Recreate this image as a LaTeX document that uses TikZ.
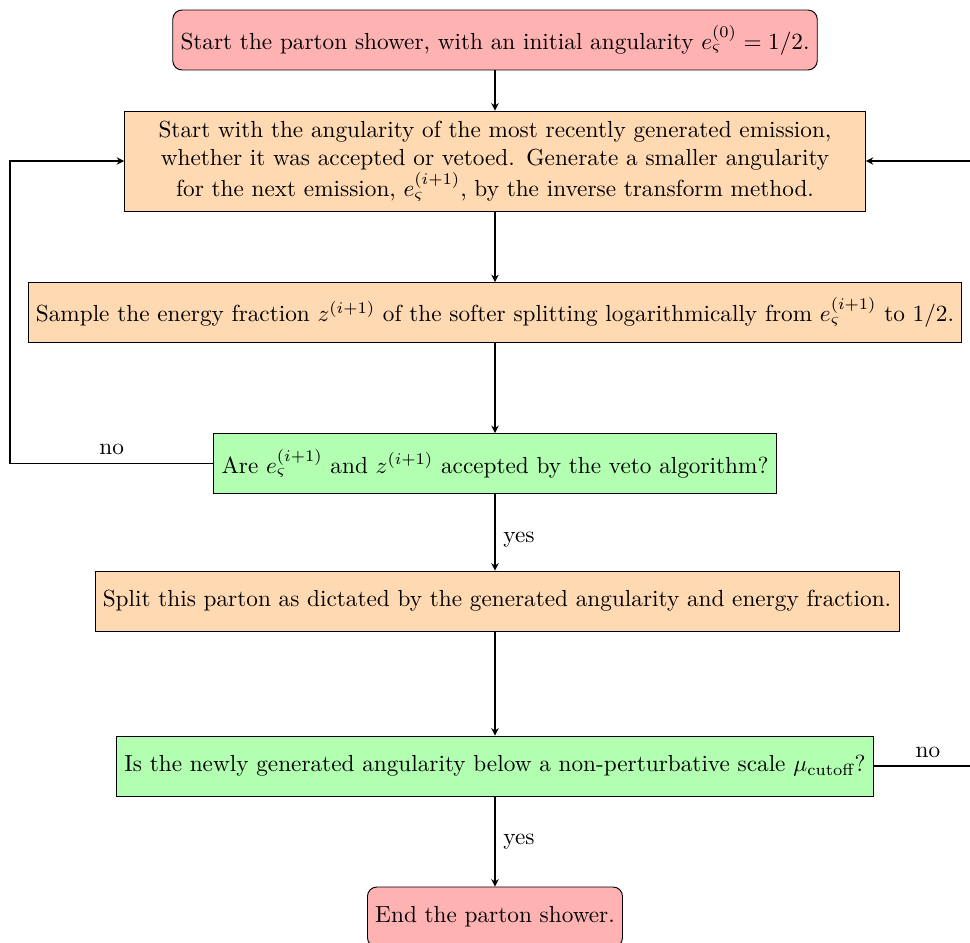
\documentclass[tikz,border=0pt]{standalone}
\usepackage{amsmath}
\usetikzlibrary{arrows.meta}
\definecolor{startred}{rgb}{1,0.7,0.7}
\definecolor{procorange}{rgb}{1,0.85,0.7}
\definecolor{decgreen}{rgb}{0.7,1,0.7}
\tikzset{
  startstop/.style={draw, rounded corners, fill=startred, minimum height=25.8pt, align=center},
  process/.style={draw, fill=procorange, minimum height=25.8pt, align=center},
  decision/.style={draw, fill=decgreen, minimum height=25.8pt, align=center},
  conn/.style={semithick, -{Stealth[length=3.2pt,width=3.2pt]}},
}
\begin{document}
\begin{tikzpicture}[x=0.4302pt, y=-0.4302pt]
\useasboundingbox (0,0) rectangle (970,942);
\node[startstop] (n1) at (495,40) {Start the parton shower, with an initial angularity $e_\varsigma^{(0)} = 1/2$.};
\node[process, text width=312pt, minimum height=43pt] (n2) at (495,161) {Start with the angularity of the most recently generated emission,\\ whether it was accepted or vetoed. Generate a smaller angularity\\ for the next emission, $e_\varsigma^{(i+1)}$, by the inverse transform method.};
\node[process] (n3) at (495,312.5) {Sample the energy fraction $z^{(i+1)}$ of the softer splitting logarithmically from $e_\varsigma^{(i+1)}$ to $1/2$.};
\node[decision] (n4) at (495,463.5) {Are $e_\varsigma^{(i+1)}$ and $z^{(i+1)}$ accepted by the veto algorithm?};
\node[process] (n5) at (497,601) {Split this parton as dictated by the generated angularity and energy fraction.};
\node[decision] (n6) at (495,766) {Is the newly generated angularity below a non-perturbative scale $\mu_{\text{cutoff}}$?};
\node[startstop] (n7) at (495,917) {End the parton shower.};
\coordinate (lft) at (10,0);
\coordinate (rgt) at (982,0);
\draw[conn] (n1) -- (n2);
\draw[conn] (n2) -- (n3);
\draw[conn] (n3) -- (n4);
\draw[conn] (n4.south -| n4) -- node[right, yshift=-3pt] {yes} (n5.north -| n4);
\draw[conn] (n5.south -| n4) -- (n6.north);
\draw[conn] (n6) -- node[right] {yes} (n7);
\draw[conn] (n4.west) -- node[above] {no} (n4.west -| lft) |- (n2.west);
\draw[conn] (n6.east) -- node[above] {no} (n6.east -| rgt) |- (n2.east);
\end{tikzpicture}
\end{document}
